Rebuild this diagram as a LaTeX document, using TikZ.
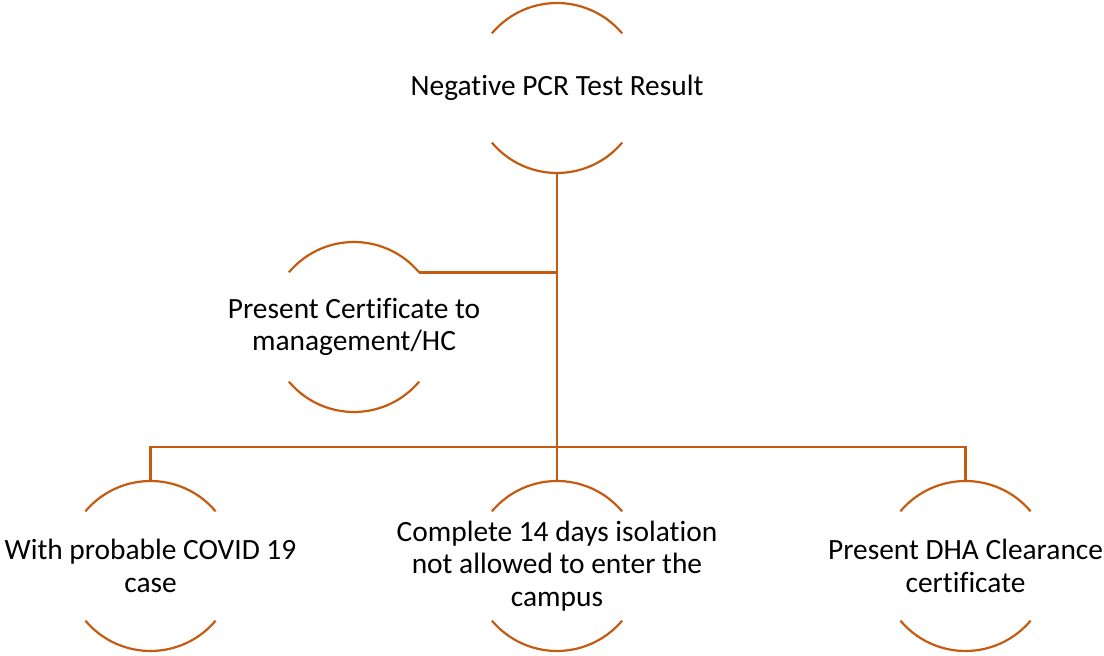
\documentclass[tikz,border=0pt]{standalone}
\usepackage{fontspec}
\setmainfont[Ligatures=NoCommon]{Carlito}
\definecolor{rust}{HTML}{C55A11}
\begin{document}
\begin{tikzpicture}[x=1pt,y=1pt,
  lbl/.style={align=center,font=\fontsize{29.4}{32.3}\selectfont,inner sep=0pt},
  arcline/.style={draw=rust,line width=2.2pt},
  conn/.style={draw=rust,line width=2.6pt}]
\useasboundingbox (0,0) rectangle (1104,656);
\node[lbl] (top) at (557,568) {Negative PCR Test Result};
\node[lbl] (mid) at (354,329) {Present Certificate to\\management/HC};
\node[lbl] (bl) at (150.5,90) {With probable COVID 19\\case};
\node[lbl] (bm) at (557,90) {Complete 14 days isolation\\not allowed to enter the\\campus};
\node[lbl] (br) at (965.5,90) {Present DHA Clearance\\certificate};
\foreach \n in {top,mid,bl,bm,br}{
  \draw[arcline] ([shift={(40:85)}]\n.center) arc[start angle=40,end angle=140,radius=85];
  \draw[arcline] ([shift={(220:85)}]\n.center) arc[start angle=220,end angle=320,radius=85];
}
\coordinate (topb) at ([yshift=-85]top.center);
\coordinate (junc) at (557,209);
\coordinate (midr) at ([shift={(40:85)}]mid.center);
\coordinate (blt) at ([yshift=85]bl.center);
\coordinate (bmt) at ([yshift=85]bm.center);
\coordinate (brt) at ([yshift=85]br.center);
\draw[conn] (topb) -- (bmt);
\draw[conn] (midr) -- (midr -| topb);
\draw[conn] (blt) -- (blt |- junc) -- (brt |- junc) -- (brt);
\end{tikzpicture}
\end{document}
